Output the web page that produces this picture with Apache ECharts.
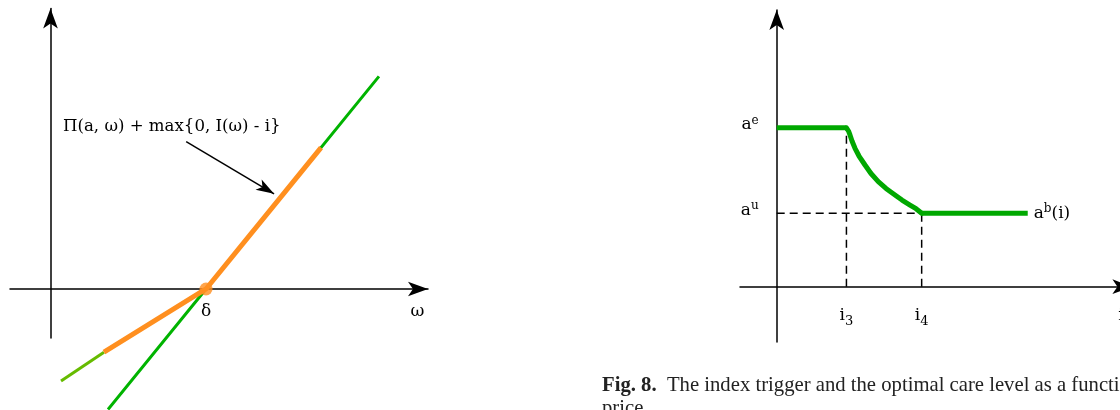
<!DOCTYPE html>
<html>
<head>
<meta charset="utf-8">
<script src="https://cdn.jsdelivr.net/npm/echarts@6/dist/echarts.min.js"></script>
<style>
  html, body { margin: 0; padding: 0; background: #ffffff; }
  #chart { width: 1120px; height: 410px; }
</style>
</head>
<body>
<div id="chart"></div>
<script>
// ---- Left panel: payoff around the trigger point delta ----
const delta = 3.84;
const omegaTickX = 9.06;
// plain payoff line (green, passes through delta)
const payoffLine = [[1.42, -2.975], [delta, 0], [8.11, 5.25]];
// combined payoff with index cover (orange part)
const coveredPayoff = [[1.32, -1.56], [delta, 0], [6.68, 3.49]];
// lower tail of the covered payoff (yellow-green)
const coveredTail = [[0.26, -2.27], [1.32, -1.56]];

// ---- Right panel: optimal care level a^b(i) against trigger i ----
const iThree = 1.9;
const iFour = 3.95;
const aE = 4.33;
const aU = 2.0;
const iEnd = 6.84;
const iAxisTickX = 9.38;
const careHigh = [[0, aE], [iThree, aE]];
const careDecline = [
  [iThree, aE], [1.956, 4.243], [1.997, 4.134], [2.052, 3.97], [2.134, 3.771],
  [2.243, 3.561], [2.406, 3.316], [2.569, 3.084], [2.768, 2.861], [2.978, 2.676],
  [3.223, 2.499], [3.414, 2.362], [3.632, 2.226], [3.796, 2.125], [iFour, aU]
];
const careLow = [[iFour, aU], [iEnd, aU]];

const SERIF = '"DejaVu Serif", serif';
const BLACK = '#000000';

// axis line with an arrow head at the far end
function arrowLine() {
  return {
    onZero: false,
    symbol: ['none', 'arrow'],
    symbolSize: [11, 20],
    lineStyle: { color: BLACK, width: 1.5 }
  };
}

const dashed = { color: BLACK, width: 1.5, type: [8, 5] };

const chart = echarts.init(document.getElementById('chart'), null, { renderer: 'canvas' });

chart.setOption({
  animation: false,
  backgroundColor: '#ffffff',
  grid: [
    { left: 10, top: 8.5, width: 418, height: 329.5, outerBoundsMode: 'none', containLabel: false },
    { left: 740, top: 10, width: 392.4, height: 332, outerBoundsMode: 'none', containLabel: false }
  ],
  xAxis: [
    {
      // offset brings the axis from the grid bottom up to y = 0
      type: 'value', gridIndex: 0, min: -1, max: 9.321, position: 'bottom', offset: -49,
      axisLine: arrowLine(),
      axisTick: { show: false },
      splitLine: { show: false },
      axisLabel: {
        customValues: [delta, omegaTickX],
        margin: 14,
        fontFamily: SERIF, fontSize: 17, color: BLACK,
        formatter: v => (Math.abs(v - delta) < 1e-6 ? 'δ' : 'ω')
      }
    },
    {
      type: 'value', gridIndex: 1, min: -1, max: 9.692, position: 'bottom', offset: -55.3,
      axisLine: arrowLine(),
      axisTick: { show: false },
      splitLine: { show: false },
      axisLabel: {
        customValues: [iThree, iFour, iAxisTickX],
        margin: 17,
        formatter: v => {
          if (Math.abs(v - iThree) < 1e-6) return '{m|i}{d|3}';
          if (Math.abs(v - iFour) < 1e-6) return '{m|i}{d|4}';
          return '{m|i}';
        },
        rich: {
          m: { fontFamily: SERIF, fontSize: 17, lineHeight: 24, color: BLACK },
          d: { fontFamily: SERIF, fontSize: 13, lineHeight: 13, verticalAlign: 'bottom', color: BLACK }
        }
      }
    }
  ],
  yAxis: [
    {
      // offset brings the axis from the grid left edge over to x = 0
      type: 'value', gridIndex: 0, min: -1.21, max: 6.926, position: 'left', offset: -40.5,
      axisLine: arrowLine(),
      axisTick: { show: false },
      splitLine: { show: false },
      axisLabel: { show: false }
    },
    {
      type: 'value', gridIndex: 1, min: -1.507, max: 7.54, position: 'left', offset: -36.7,
      axisLine: arrowLine(),
      axisTick: { show: false },
      splitLine: { show: false },
      axisLabel: {
        customValues: [aU, aE],
        margin: 18,
        padding: [0, 0, 6, 0],
        formatter: v => (Math.abs(v - aE) < 1e-6 ? '{m|a}{s|e}' : '{m|a}{s|u}'),
        rich: {
          m: { fontFamily: SERIF, fontSize: 17, lineHeight: 20, color: BLACK },
          s: { fontFamily: SERIF, fontSize: 12, lineHeight: 12, verticalAlign: 'top', color: BLACK }
        }
      }
    }
  ],
  series: [
    // left panel
    {
      type: 'line', xAxisIndex: 0, yAxisIndex: 0, data: payoffLine,
      symbol: 'none', clip: false, silent: true,
      lineStyle: { color: '#00b300', width: 3 }
    },
    {
      type: 'line', xAxisIndex: 0, yAxisIndex: 0, data: coveredTail,
      symbol: 'none', clip: false, silent: true,
      lineStyle: { color: '#66bb00', width: 3 }
    },
    {
      type: 'line', xAxisIndex: 0, yAxisIndex: 0, data: coveredPayoff,
      symbol: 'none', clip: false, silent: true,
      lineStyle: { color: '#ff8f1f', width: 5, join: 'round' },
      markLine: {
        silent: true,
        symbol: ['none', 'arrow'],
        symbolSize: [9, 18],
        label: { show: false },
        lineStyle: { color: BLACK, width: 1.5, type: 'solid' },
        emphasis: { disabled: true },
        data: [[{ coord: [3.35, 3.64] }, { coord: [5.52, 2.35] }]]
      }
    },
    {
      type: 'scatter', xAxisIndex: 0, yAxisIndex: 0, data: [[delta, 0]], z: 5,
      symbol: 'circle', symbolSize: 13, clip: false, silent: true,
      itemStyle: { color: '#ff8f1f' }
    },
    // right panel
    {
      type: 'line', xAxisIndex: 1, yAxisIndex: 1, data: [[iThree, 0], [iThree, aE]],
      symbol: 'none', silent: true, lineStyle: dashed
    },
    {
      type: 'line', xAxisIndex: 1, yAxisIndex: 1, data: [[iFour, 0], [iFour, aU]],
      symbol: 'none', silent: true, lineStyle: dashed
    },
    {
      type: 'line', xAxisIndex: 1, yAxisIndex: 1, data: [[0, aU], [iFour, aU]],
      symbol: 'none', silent: true, lineStyle: dashed
    },
    {
      type: 'line', xAxisIndex: 1, yAxisIndex: 1, data: careHigh,
      symbol: 'none', silent: true,
      lineStyle: { color: '#00a800', width: 5 }
    },
    {
      type: 'line', xAxisIndex: 1, yAxisIndex: 1, data: careDecline,
      symbol: 'none', silent: true,
      lineStyle: { color: '#00a800', width: 5, cap: 'round', join: 'round' }
    },
    {
      type: 'line', xAxisIndex: 1, yAxisIndex: 1, data: careLow,
      symbol: 'none', silent: true,
      lineStyle: { color: '#00a800', width: 5 },
      endLabel: {
        show: true,
        distance: 6,
        formatter: () => '{m|a}{s|b}{m|(i)}',
        rich: {
          m: { fontFamily: SERIF, fontSize: 17, lineHeight: 20, color: BLACK },
          s: { fontFamily: SERIF, fontSize: 12, lineHeight: 12, verticalAlign: 'top', color: BLACK }
        }
      }
    }
  ],
  graphic: [
    {
      type: 'text', left: 63, top: 118, silent: true,
      style: { text: 'Π(a, ω) + max{0, I(ω) - i}', font: '16.6px "DejaVu Serif", serif', fill: BLACK }
    },
    {
      type: 'text', left: 602, top: 374, silent: true,
      style: {
        text: '{b|Fig. 8.}  The index trigger and the optimal care level as a function of the\nprice.',
        fontFamily: '"Liberation Serif", serif', fontSize: 20.7, lineHeight: 23, fill: '#222222',
        rich: {
          b: { fontFamily: '"Liberation Serif", serif', fontSize: 20.7, fontWeight: 'bold', lineHeight: 23, fill: '#222222' }
        }
      }
    }
  ]
});
</script>
</body>
</html>
